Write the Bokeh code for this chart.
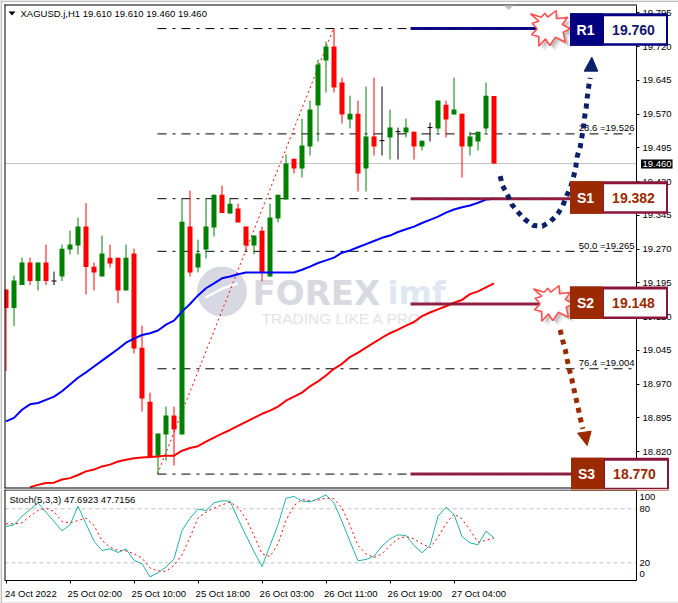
from bokeh.plotting import figure
from bokeh.layouts import column
from bokeh.models import Range1d, FixedTicker, PolyAnnotation, Label, LinearAxis
from bokeh.core.properties import value
from bokeh.embed import file_html
from bokeh.resources import INLINE

# ---------- data ----------
opens = [19.180,19.139,19.190,19.240,19.199,19.240,19.199,19.209,19.269,19.278,19.320,19.231,19.209,19.251,19.251,19.178,19.260,19.051,18.931,18.811,18.858,18.900,18.858,19.320,19.229,19.269,19.318,19.391,19.349,19.360,19.320,19.278,19.311,19.209,19.338,19.380,19.471,19.449,19.498,19.589,19.689,19.720,19.640,19.558,19.571,19.449,19.520,19.511,19.518,19.531,19.529,19.531,19.498,19.540,19.538,19.591,19.569,19.571,19.498,19.509,19.538,19.610]
highs = [19.180,19.211,19.251,19.251,19.240,19.280,19.220,19.280,19.311,19.340,19.372,19.240,19.300,19.280,19.251,19.280,19.271,19.100,18.951,18.860,18.920,18.920,19.382,19.400,19.291,19.382,19.391,19.411,19.382,19.371,19.320,19.300,19.320,19.371,19.391,19.480,19.471,19.560,19.600,19.691,19.731,19.760,19.651,19.611,19.600,19.631,19.651,19.631,19.580,19.540,19.560,19.531,19.511,19.551,19.600,19.600,19.651,19.571,19.531,19.531,19.640,19.610]
lows = [18.999,19.099,19.190,19.190,19.178,19.190,19.190,19.199,19.258,19.258,19.169,19.178,19.209,19.229,19.150,19.178,19.038,18.909,18.808,18.771,18.800,18.789,18.858,19.209,19.218,19.249,19.298,19.350,19.349,19.329,19.267,19.258,19.198,19.209,19.329,19.380,19.438,19.429,19.478,19.509,19.618,19.618,19.549,19.538,19.398,19.398,19.478,19.478,19.469,19.469,19.518,19.469,19.489,19.509,19.529,19.518,19.569,19.429,19.478,19.489,19.529,19.460]
closes = [19.139,19.200,19.240,19.199,19.240,19.199,19.199,19.271,19.280,19.320,19.230,19.218,19.260,19.238,19.178,19.251,19.049,18.938,18.808,18.860,18.900,18.869,19.331,19.218,19.260,19.320,19.391,19.350,19.371,19.329,19.278,19.300,19.218,19.340,19.391,19.460,19.449,19.500,19.580,19.680,19.720,19.629,19.569,19.571,19.438,19.520,19.498,19.511,19.540,19.531,19.540,19.498,19.511,19.540,19.600,19.558,19.580,19.498,19.520,19.531,19.611,19.460]

ma_blue = [18.887,18.895,18.913,18.925,18.928,18.935,18.942,18.954,18.969,18.984,18.996,19.009,19.022,19.035,19.048,19.062,19.071,19.079,19.083,19.089,19.102,19.111,19.131,19.148,19.167,19.183,19.194,19.205,19.209,19.214,19.218,19.218,19.218,19.218,19.218,19.218,19.218,19.224,19.231,19.239,19.245,19.251,19.262,19.267,19.274,19.281,19.288,19.295,19.300,19.308,19.314,19.320,19.328,19.335,19.342,19.351,19.358,19.363,19.367,19.373,19.380,19.382]
ma_red_start = 3
ma_red = [18.741,18.746,18.750,18.751,18.758,18.761,18.768,18.776,18.780,18.787,18.791,18.798,18.802,18.805,18.807,18.808,18.809,18.811,18.811,18.822,18.828,18.832,18.842,18.851,18.860,18.868,18.877,18.886,18.895,18.904,18.911,18.920,18.933,18.942,18.951,18.965,18.976,18.989,19.004,19.015,19.030,19.040,19.051,19.062,19.073,19.083,19.091,19.100,19.108,19.121,19.129,19.136,19.143,19.151,19.157,19.170,19.176,19.185,19.194]

stoch_main = [60.3,62.2,71.8,79.2,86.6,76.3,65.9,55.5,62.2,82.9,63.3,44.0,33.7,35.5,31.5,35.5,22.6,18.9,4.4,8.9,15.2,24.4,55.9,69.6,79.6,78.1,86.6,88.9,88.5,68.9,50.3,32.6,15.9,39.2,62.2,91.8,93.7,88.5,87.8,91.1,95.5,86.6,65.9,43.7,22.2,23.7,27.4,38.5,46.6,51.1,50.3,39.2,31.1,39.2,71.8,81.8,73.7,49.2,42.2,40.0,55.2,47.69]
stoch_signal = [63.3,63.3,64.4,71.8,78.1,80.7,77.0,65.9,64.4,67.0,69.6,61.5,44.8,37.4,33.7,33.3,30.0,25.2,14.1,11.1,10.4,17.0,28.9,48.5,69.6,76.3,80.7,84.4,87.4,81.8,68.9,50.3,30.0,27.0,41.1,67.0,83.7,90.3,88.9,89.6,91.8,91.1,80.7,61.5,39.2,30.0,25.9,30.0,39.2,46.6,49.2,46.6,41.1,36.6,48.5,63.3,74.4,68.9,55.9,43.0,44.8,47.72]

price_ticks = [19.795,19.720,19.645,19.570,19.495,19.420,19.345,19.270,19.195,19.120,19.045,18.970,18.895,18.820]
time_tick_bars = [0,8,16,24,32,40,48,56]
time_labels = ["24 Oct 2022","25 Oct 02:00","25 Oct 10:00","25 Oct 18:00","26 Oct 03:00","26 Oct 11:00","26 Oct 19:00","27 Oct 04:00"]
stoch_levels = [80,20]
stoch_axis_labels = {93:"100",80:"80",20:"20",8:"0"}

fib_ratios = ["23.6","50.0","76.4"]
fib_values = [19.526,19.265,19.004]
fib_all = [19.760,19.526,19.382,19.265,19.004,18.770]
level_names = ["R1","S1","S2","S3"]
level_values = [19.760,19.382,19.148,18.770]
header = "XAGUSD.j,H1  19.610 19.610 19.460 19.460"
stoch_header = "Stoch(5,3,3) 47.6923 47.7156"

# ---------- pixel helpers (layout only) ----------
FONT = "Liberation Sans"
FS = "9.5px"
NAVY, CRIM, BRICK = "#000080", "#8b1538", "#9c2a00"
def X(px): return (px - 5.5) / 8
def Y(py): return 19.8224 - py / 450
def Y2(py): return (580.3 - py) / 0.9

p = figure(width=678, height=489, output_backend="svg", toolbar_location=None,
           x_range=Range1d(X(0), X(678)), y_range=Range1d(Y(489), Y(0)),
           x_axis_location=None, y_axis_location=None,
           min_border_left=0, min_border_right=0, min_border_top=0, min_border_bottom=0,
           outline_line_color=None, background_fill_color="white", border_fill_color="white")
p.grid.visible = False
ax = LinearAxis(fixed_location=X(636), bounds=(Y(487), Y(4.5)))
ax.ticker = FixedTicker(ticks=price_ticks)
ax.major_label_overrides = {t: f"{t:.3f}" for t in price_ticks}
ax.major_tick_out = 3; ax.major_tick_in = 0; ax.minor_tick_out = 0; ax.minor_tick_in = 0
ax.major_label_standoff = 3
ax.major_label_text_font = FONT; ax.major_label_text_font_size = FS; ax.major_label_text_color = "black"
ax.axis_line_color = "black"; ax.major_tick_line_color = "black"
p.add_layout(ax, "right")

# watermark
p.scatter([X(221.5)], [Y(291)], size=49, marker="circle", color="#d8d8e2", level="underlay")
p.line([X(205), X(222), X(237)], [Y(297), Y(288), Y(283)], line_color="white", line_width=2.5, level="underlay")
p.text([X(252)], [Y(292)], text=["FOREX"], text_font=value("DejaVu Sans"), text_font_style="bold",
       text_font_size="34px", text_color="#d9d9e2", text_baseline="middle", level="underlay")
p.text([X(387)], [Y(292)], text=["imf"], text_font=value("DejaVu Sans"), text_font_style="bold",
       text_font_size="32px", text_color="#dfe8f2", text_baseline="middle", level="underlay")
p.text([X(261)], [Y(318)], text=["TRADING LIKE A PRO"], text_font=value(FONT),
       text_font_size="15.5px", text_color="#e2e2e8", text_baseline="middle", level="underlay")

# current price line
p.segment([X(4)], [closes[-1]], [X(636)], [closes[-1]], line_color="#c0c0c0", line_width=1, level="underlay")

# fibonacci levels
for f in fib_all:
    p.line([X(157), X(633)], [f, f], line_color="black", line_width=1, line_dash="9 6 3 6")
p.line([X(157), X(333)], [fib_all[-1], fib_all[0]], line_color="red", line_width=1, line_dash="2 3")

# candles
idx = list(range(len(closes)))
cols = ["#008000" if c > o else ("#ff0000" if c < o else "black") for o, c in zip(opens, closes)]
p.segment(idx, lows, idx, highs, line_color=cols, line_width=1)
p.vbar(idx, 5 / 8, [min(o, c) for o, c in zip(opens, closes)], [max(o, c) for o, c in zip(opens, closes)],
       fill_color=cols, line_alpha=0)
doji = [i for i in idx if opens[i] == closes[i]]
p.segment([i - 2.5 / 8 for i in doji], [closes[i] for i in doji], [i + 2.5 / 8 for i in doji],
          [closes[i] for i in doji], line_color="black", line_width=1)

# moving averages
p.line(idx, ma_blue, line_color="#0000ff", line_width=2)
p.line(idx[ma_red_start:], ma_red, line_color="#ff0000", line_width=2)

# fib labels
for r, v in zip(fib_ratios, fib_values):
    p.text([X(634)], [v + 6 / 450], text=[f"{r} ={v:.3f}"], text_font=value(FONT), text_font_size=FS,
           text_align="right", text_baseline="middle", text_color="black")
p.text([X(20)], [Y(12.5)], text=[header], text_font=value(FONT), text_font_size=FS,
       text_baseline="middle", text_color="black")

# level lines
for name, v in zip(level_names, level_values):
    c = NAVY if name == "R1" else CRIM
    p.segment([X(410)], [v], [X(571)], [v], line_color=c, line_width=3, line_alpha=0.95)

# arrows
up_px = [(485,527),(492,555),(507,583),(520,612),(538,634),(558,656),(585,675),(612,677),(637,662),(658,640),(673,615),(685,585),(697,558),(705,530),(712,498),(716,468),(725,440),(730,410),(735,382),(738,352),(743,322),(746,292),(750,262),(755,232)]
p.line([X(338 + a / 3) for a, b in up_px], [Y(b / 3) for a, b in up_px], line_color="#0c2068", line_width=5, line_dash="5 5")
p.patch([X(338 + a / 3) for a in (737, 778, 760)], [Y(b / 3) for b in (212, 212, 170)], color="#0c2068")
dn_px = [(665,268),(672,298),(680,327),(686,357),(693,388),(700,416),(706,445),(713,476),(720,507),(726,536),(733,565)]
p.line([X(338 + a / 3) for a, b in dn_px], [Y(240 + b / 3) for a, b in dn_px], line_color=BRICK, line_width=5, line_dash="5 5")
p.patch([X(338 + a / 3) for a in (717, 758, 746)], [Y(240 + b / 3) for b in (578, 572, 615)], color=BRICK)

def poly(fig, pts, yf, fill, alpha=1.0, line=None, lw=0):
    fig.add_layout(PolyAnnotation(xs=[X(a) for a, b in pts], ys=[yf(b) for a, b in pts],
                                  fill_color=fill, fill_alpha=alpha,
                                  line_color=line, line_width=lw, line_alpha=1 if line else 0))

def rect(fig, x0, y0, x1, y1, yf, fill, alpha=1.0):
    poly(fig, [(x0, y0), (x1, y0), (x1, y1), (x0, y1)], yf, fill, alpha)

# window chrome and pane edges
rect(p, 1.2, 0, 4, 489, Y, "white")
rect(p, 0, 487.5, 636, 489, Y, "white")
rect(p, 0, 0, 678, 1.2, Y, "#a8a8a8")
rect(p, 0, 0, 1.2, 489, Y, "#a8a8a8")
rect(p, 4, 4, 636.5, 5, Y, "black")
rect(p, 4, 4, 5, 487.8, Y, "black")
rect(p, 4, 487, 636.5, 488, Y, "black")

# starbursts
star = [(30,40),(62,50),(73,38),(82,50),(107,30),(108,55),(142,50),(125,72),(150,85),(128,95),(135,125),(105,110),(88,135),(75,115),(55,137),(55,108),(33,103),(50,85),(35,68),(55,62)]
def burst(ox, oy):
    pts = [(ox + a / 3, oy + b / 3) for a, b in star]
    for d, al in ((5, 0.18), (3, 0.28)):
        poly(p, [(a + d, b + d) for a, b in pts], Y, "#707070", al)
    poly(p, pts, Y, "white", 1, "#ff5050", 1.6)
burst(520, 0)
burst(523, 275)

# boxes
boxes = [("R1", 569.5, 12.7, NAVY, NAVY, "#14146e"), ("S1", 569.5, 180.7, BRICK, CRIM, BRICK),
         ("S2", 569.5, 286, BRICK, CRIM, BRICK), ("S3", 570.5, 457.3, BRICK, CRIM, BRICK)]
for (name, bx, by, cell, border, tc), v in zip(boxes, level_values):
    rect(p, bx, by, bx + 98, by + 32.5, Y, border)
    rect(p, bx, by, bx + 33, by + 32.5, Y, cell)
    rect(p, bx + 34, by + 3, bx + 96, by + 30, Y, "white")
    p.add_layout(Label(x=X(bx + 15.5), y=Y(by + 16.5), text=name, text_font=FONT, text_font_style="bold",
                       text_font_size="14px", text_color="white", text_align="center", text_baseline="middle"))
    p.add_layout(Label(x=X(bx + 63.5), y=Y(by + 16.5), text=f"{v:.3f}", text_font=FONT, text_font_style="bold",
                       text_font_size="14px", text_color=tc, text_align="center", text_baseline="middle"))

# current price tag
rect(p, 640.5, 159, 672, 168, Y, "black")
p.add_layout(Label(x=X(642), y=closes[-1], text=f"{closes[-1]:.3f}", text_font=FONT, text_font_size=FS,
                   text_color="white", text_baseline="middle"))

# small marks
poly(p, [(503.5, 5), (513, 5), (508, 9.5)], Y, "#c0c0c0")
poly(p, [(8, 11), (15, 11), (11.5, 15)], Y, "black")

# ---------- stochastic ----------
s = figure(width=678, height=114, output_backend="svg", toolbar_location=None,
           x_range=Range1d(X(0), X(678)), y_range=Range1d(Y2(603), Y2(489)),
           x_axis_location=None, y_axis_location=None,
           min_border_left=0, min_border_right=0, min_border_top=0, min_border_bottom=0,
           outline_line_color=None, background_fill_color="white", border_fill_color="white")
s.grid.visible = False
for lv in stoch_levels:
    s.segment([X(4)], [lv], [X(636)], [lv], line_color="#c0c0c0", line_width=1, line_dash="4 3")
s.line(idx, stoch_signal, line_color="#ff0000", line_width=1, line_dash="2 3")
s.line(idx, stoch_main, line_color="#20b2aa", line_width=1)
s.text([X(9)], [Y2(498.5)], text=[stoch_header], text_font=value(FONT), text_font_size=FS,
       text_baseline="middle", text_color="black")

ay = LinearAxis(fixed_location=X(636), bounds=(Y2(580), Y2(489.5)))
ay.ticker = FixedTicker(ticks=list(stoch_axis_labels))
ay.major_label_overrides = stoch_axis_labels
ay.major_tick_out = 0; ay.major_tick_in = 0; ay.minor_tick_out = 0; ay.minor_tick_in = 0
ay.major_label_standoff = 3
ay.major_label_text_font = FONT; ay.major_label_text_font_size = FS; ay.major_label_text_color = "black"
s.add_layout(ay, "right")

ax2 = LinearAxis(fixed_location=Y2(580), bounds=(X(4), X(636)))
label_pos = [t + 3.1 for t in time_tick_bars]
ax2.ticker = FixedTicker(ticks=label_pos, minor_ticks=time_tick_bars)
ax2.major_label_overrides = dict(zip(label_pos, time_labels))
ax2.major_tick_out = 0; ax2.major_tick_in = 0
ax2.minor_tick_out = 3; ax2.minor_tick_in = 0
ax2.major_label_standoff = 4
ax2.major_label_text_font = FONT; ax2.major_label_text_font_size = FS; ax2.major_label_text_color = "black"
s.add_layout(ax2, "below")

rect(s, 1.2, 489, 4, 600, Y2, "white")
rect(s, 4, 489, 636.5, 490, Y2, "black")
rect(s, 4, 489, 5, 580, Y2, "black")
rect(s, 0, 601, 678, 603.5, Y2, "#ececec")
rect(s, 0, 489, 1.2, 603, Y2, "#a8a8a8")
rect(s, 570.5, 489, 668.5, 490, Y2, BRICK)

page = column(p, s, spacing=0)
open("out.html", "w").write(file_html(page, INLINE))
